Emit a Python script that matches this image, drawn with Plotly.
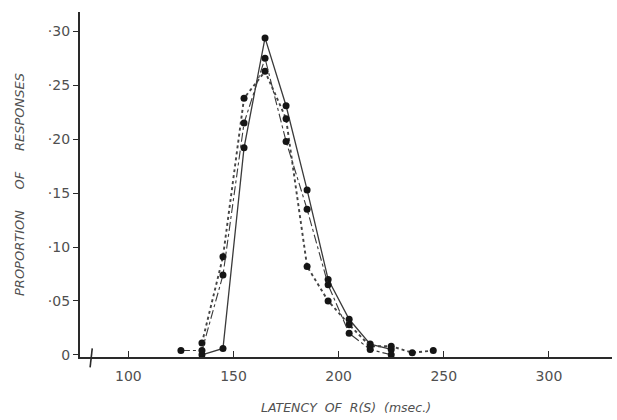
import plotly.graph_objects as go

solid_x = [135, 145, 155, 165, 175, 185, 195, 205, 215, 225]
solid_y = [0.000, 0.006, 0.192, 0.294, 0.231, 0.153, 0.070, 0.033, 0.010, 0.005]

dotted_x = [135, 145, 155, 165, 175, 185, 195, 205, 215, 225, 235, 245]
dotted_y = [0.011, 0.091, 0.238, 0.263, 0.219, 0.082, 0.050, 0.028, 0.008, 0.008, 0.002, 0.004]

dashdot_x = [125, 135, 145, 155, 165, 175, 185, 195, 205, 215, 225]
dashdot_y = [0.004, 0.004, 0.074, 0.215, 0.275, 0.198, 0.135, 0.065, 0.020, 0.005, 0.000]

y_ticks = [0, 0.05, 0.10, 0.15, 0.20, 0.25, 0.30]
y_tick_labels = ["0", "·05", "·10", "·15", "·20", "·25", "·30"]
x_ticks = [100, 150, 200, 250, 300]
x_tick_labels = ["100", "150", "200", "250", "300"]

font_family = "DejaVu Sans"
text_col = "#505050"
line_col = "#2a2a2a"

fig = go.Figure()
marker = dict(color="#151515", size=7)
fig.add_trace(go.Scatter(x=solid_x, y=solid_y, mode="lines+markers",
                         line=dict(color="#3a3a3a", width=1.3, dash="solid"),
                         marker=marker, cliponaxis=False))
fig.add_trace(go.Scatter(x=dotted_x, y=dotted_y, mode="lines+markers",
                         line=dict(color="#444444", width=1.9, dash="dot"),
                         marker=marker, cliponaxis=False))
fig.add_trace(go.Scatter(x=dashdot_x, y=dashdot_y, mode="lines+markers",
                         line=dict(color="#3a3a3a", width=1.1, dash="dashdot"),
                         marker=marker, cliponaxis=False))

fig.update_layout(
    width=617, height=420,
    margin=dict(l=80, r=5, t=12, b=63),
    paper_bgcolor="white", plot_bgcolor="white",
    showlegend=False,
    font=dict(family=font_family, color=text_col, size=14),
    xaxis=dict(range=[77, 330], tickvals=x_ticks, ticktext=x_tick_labels,
               ticks="inside", ticklen=6, tickwidth=1.3, tickcolor=line_col,
               showline=True, linecolor=line_col, linewidth=2.2,
               showgrid=False, zeroline=False,
               ticklabelstandoff=5,
               tickfont=dict(size=14, color=text_col),
               title=dict(text="<i>LATENCY  OF  R(S)  (msec.)</i>",
                          font=dict(size=12.5, color=text_col), standoff=20)),
    yaxis=dict(range=[-0.002, 0.318], tickvals=y_ticks, ticktext=y_tick_labels,
               ticks="outside", ticklen=5, tickwidth=1.3, tickcolor=line_col,
               showline=True, linecolor=line_col, linewidth=2.2,
               showgrid=False, zeroline=False,
               tickfont=dict(size=14, color=text_col),
               title=dict(text="<i>PROPORTION     OF     RESPONSES</i>",
                          font=dict(size=13, color=text_col), standoff=20)),
    shapes=[dict(type="line", xref="paper", yref="paper",
                 x0=0.023, y0=0.025, x1=0.019, y1=-0.03,
                 line=dict(color=line_col, width=1.6))],
)

fig.write_html("out.html")
